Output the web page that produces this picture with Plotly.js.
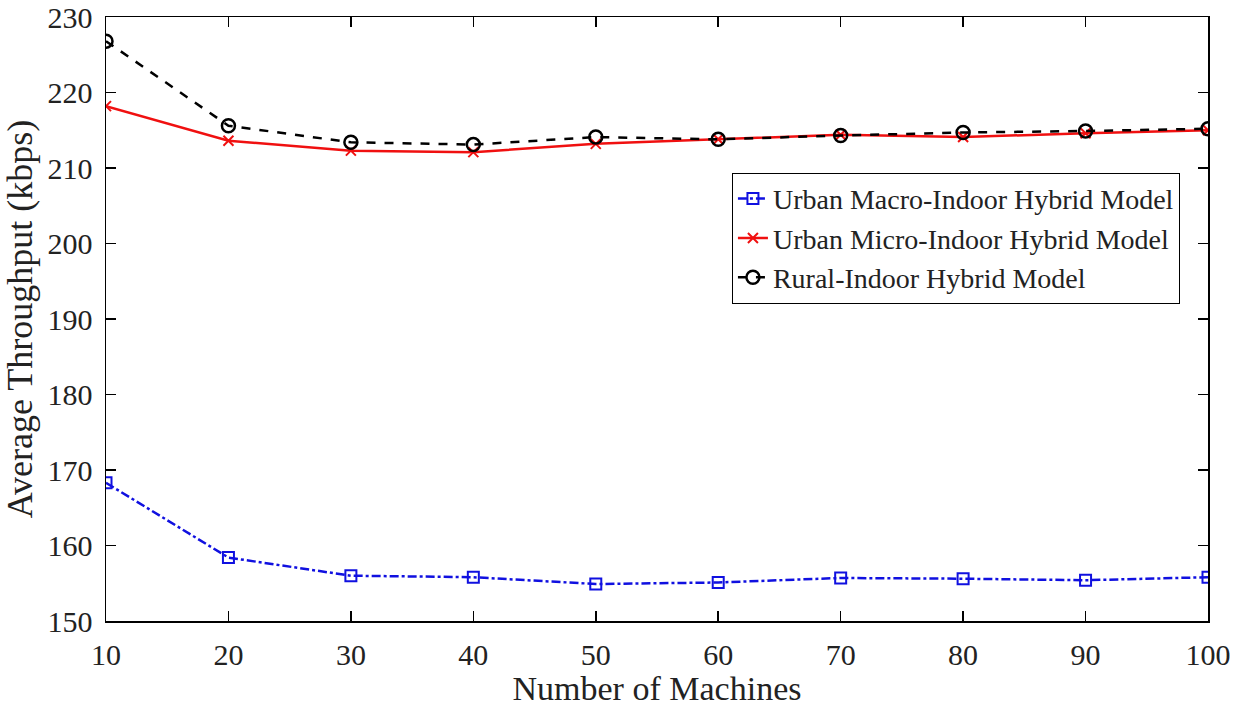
<!DOCTYPE html>
<html><head><meta charset="utf-8">
<script src="https://cdn.plot.ly/plotly-3.0.1.min.js"></script>
<style>body{margin:0;background:#fff}#plot{width:1243px;height:711px}</style>
</head><body><div id="plot"></div>
<script>
const machines = [10, 20, 30, 40, 50, 60, 70, 80, 90, 100];
const urbanMacro = [168.3, 158.4, 156.0, 155.8, 154.9, 155.1, 155.7, 155.6, 155.4, 155.8];
const urbanMicro = [218.2, 213.6, 212.3, 212.1, 213.2, 213.8, 214.4, 214.1, 214.6, 215.0];
const rural = [226.8, 215.6, 213.4, 213.1, 214.1, 213.8, 214.3, 214.7, 214.9, 215.2];
const names = ["Urban Macro-Indoor Hybrid Model", "Urban Micro-Indoor Hybrid Model", "Rural-Indoor Hybrid Model"];
const xTicks = [10, 20, 30, 40, 50, 60, 70, 80, 90, 100];
const yTicks = [150, 160, 170, 180, 190, 200, 210, 220, 230];

const font = "Liberation Serif, Times New Roman, serif";
const traces = [
  {x: machines, y: urbanMacro, name: names[0], mode: "lines+markers",
   line: {color: "#1010e0", width: 2.5, dash: "dashdot"},
   marker: {symbol: "square-open", size: 11, color: "#1010e0", line: {width: 2}}},
  {x: machines, y: urbanMicro, name: names[1], mode: "lines+markers",
   line: {color: "#f01010", width: 2.5, dash: "solid"},
   marker: {symbol: "x-thin-open", size: 10, color: "#f01010", line: {width: 2, color: "#f01010"}}},
  {x: machines, y: rural, name: names[2], mode: "lines+markers",
   line: {color: "#000000", width: 2.5, dash: "dash"},
   marker: {symbol: "circle-open", size: 13, color: "#000000", line: {width: 2.5}}}
];
const axisCommon = {
  showgrid: false, zeroline: false, showline: true, linecolor: "#000", linewidth: 1.5,
  mirror: "ticks", ticks: "inside", ticklen: 10, tickwidth: 1.5, tickcolor: "#000",
  tickfont: {family: font, size: 30, color: "#222"}
};
const layout = {
  width: 1243, height: 711,
  margin: {l: 106, r: 35, t: 17, b: 90},
  paper_bgcolor: "#fff", plot_bgcolor: "#fff",
  showlegend: true,
  xaxis: Object.assign({}, axisCommon, {
    range: [10, 100], tickvals: xTicks, ticktext: xTicks.map(String),
    ticklabelstandoff: 6,
    title: {text: "Number of Machines", font: {family: font, size: 34, color: "#222"}, standoff: 4}
  }),
  yaxis: Object.assign({}, axisCommon, {
    range: [150, 230], tickvals: yTicks, ticktext: yTicks.map(String),
    ticklabelstandoff: 6,
    title: {text: "Average Throughput (kbps)", font: {family: font, size: 36, color: "#222"}, standoff: 4}
  }),
  legend: {
    x: 0.568, y: 0.742, xanchor: "left", yanchor: "top",
    bgcolor: "#fff", bordercolor: "#000", borderwidth: 1,
    font: {family: font, size: 28, color: "#222"},
    itemwidth: 30, tracegroupgap: 0
  }
};
Plotly.newPlot("plot", traces, layout, {displayModeBar: false, staticPlot: true});
</script>
</body></html>
